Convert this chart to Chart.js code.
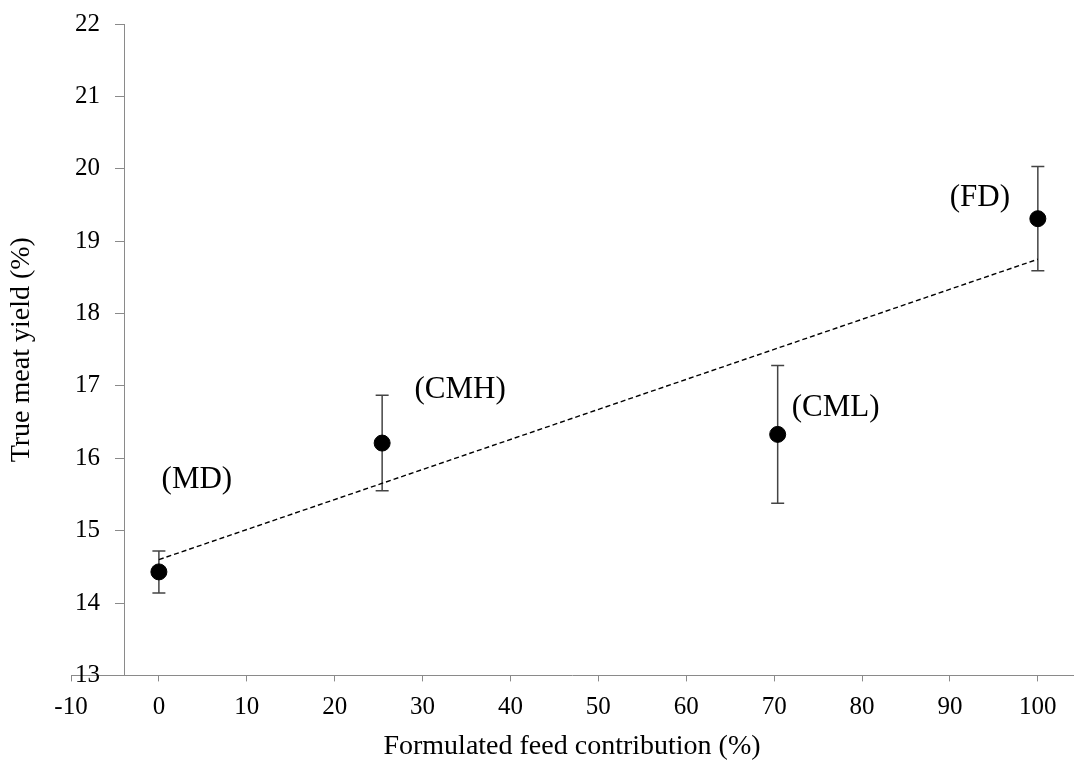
<!DOCTYPE html>
<html><head><meta charset="utf-8">
<script src="https://cdn.jsdelivr.net/npm/chart.js@4/dist/chart.umd.min.js"></script>
<style>html,body{margin:0;padding:0;background:#fff}#wrap{width:1074px;height:769px}</style>
</head><body><div id="wrap"><canvas id="c" width="1074" height="769"></canvas></div>
<script>
// ---- data ----
const treatments = ['(MD)', '(CMH)', '(CML)', '(FD)'];
const feedContribution = [0, 25.4, 70.4, 100];
const meatYield = [14.43, 16.21, 16.33, 19.31];
const yieldError = [0.29, 0.66, 0.95, 0.72];
const trendX = [0, 100];
const trendY = [14.60, 18.75];
const xTicks = [-10, 0, 10, 20, 30, 40, 50, 60, 70, 80, 90, 100];
const yTicks = [13, 14, 15, 16, 17, 18, 19, 20, 21, 22];
const xTitle = 'Formulated feed contribution (%)';
const yTitle = 'True meat yield (%)';
const yAxisCrossAt = -3.9;

// ---- styling / layout (not data) ----
const SERIF = "'Liberation Serif', 'DejaVu Serif', serif";
const AXIS_COLOR = '#8a8a8a';
const labelOffsets = [[38, -92], [78, -53], [58, -27], [-58, -21]];

const errorBarPlugin = {
  id: 'errorBars',
  beforeDatasetsDraw(chart) {
    const {ctx, scales: {x, y}} = chart;
    ctx.save();
    ctx.strokeStyle = '#444';
    ctx.lineWidth = 1.5;
    const cap = 6.5;
    feedContribution.forEach((fx, i) => {
      const px = x.getPixelForValue(fx);
      const top = y.getPixelForValue(meatYield[i] + yieldError[i]);
      const bot = y.getPixelForValue(meatYield[i] - yieldError[i]);
      ctx.beginPath();
      ctx.moveTo(px, top); ctx.lineTo(px, bot);
      ctx.moveTo(px - cap, top); ctx.lineTo(px + cap, top);
      ctx.moveTo(px - cap, bot); ctx.lineTo(px + cap, bot);
      ctx.stroke();
    });
    ctx.restore();
  }
};

const pointLabelPlugin = {
  id: 'pointLabels',
  afterDatasetsDraw(chart) {
    const {ctx, scales: {x, y}} = chart;
    ctx.save();
    ctx.fillStyle = '#000';
    ctx.font = '31px ' + SERIF;
    ctx.textAlign = 'center';
    ctx.textBaseline = 'middle';
    treatments.forEach((t, i) => {
      const px = x.getPixelForValue(feedContribution[i]);
      const py = y.getPixelForValue(meatYield[i]);
      ctx.fillText(t, px + labelOffsets[i][0], py + labelOffsets[i][1]);
    });
    ctx.restore();
  }
};

const zeroSidePadding = (axis) => { axis.paddingLeft = 0; axis.paddingRight = 0; };

new Chart(document.getElementById('c'), {
  type: 'scatter',
  data: {
    datasets: [
      {
        type: 'line',
        label: 'trend',
        data: trendX.map((v, i) => ({x: v, y: trendY[i]})),
        borderColor: '#000',
        borderWidth: 1.4,
        borderDash: [5, 3],
        pointRadius: 0,
        fill: false,
        order: 2
      },
      {
        label: 'yield',
        data: feedContribution.map((v, i) => ({x: v, y: meatYield[i]})),
        backgroundColor: '#000',
        borderColor: '#000',
        pointRadius: 8,
        pointHoverRadius: 8,
        order: 1
      }
    ]
  },
  options: {
    responsive: false,
    devicePixelRatio: 1,
    animation: false,
    layout: {autoPadding: false, padding: {left: 0, right: 1, top: 24, bottom: 2}},
    plugins: {legend: {display: false}, tooltip: {enabled: false}},
    scales: {
      x: {
        type: 'linear',
        position: 'bottom',
        min: -10,
        max: 104,
        afterBuildTicks: (axis) => { axis.ticks = xTicks.map(v => ({value: v})); },
        afterFit: zeroSidePadding,
        grid: {drawOnChartArea: false, drawTicks: true, tickLength: 6, color: AXIS_COLOR},
        border: {color: AXIS_COLOR, width: 1},
        ticks: {color: '#000', font: {family: SERIF, size: 25}, padding: 11, autoSkip: false, maxRotation: 0},
        title: {display: true, text: xTitle, color: '#000', font: {family: SERIF, size: 28}, padding: {top: -4, bottom: 4}}
      },
      // tick labels + title (labels mirrored so they sit just left of the crossing axis)
      y: {
        type: 'linear',
        position: 'left',
        min: 13,
        max: 22,
        afterBuildTicks: (axis) => { axis.ticks = yTicks.map(v => ({value: v})); },
        afterFit: zeroSidePadding,
        grid: {display: false, drawTicks: false, tickLength: 0},
        border: {display: false},
        ticks: {color: '#000', font: {family: SERIF, size: 25}, mirror: true, crossAlign: 'far', padding: 4},
        title: {display: true, text: yTitle, color: '#000', font: {family: SERIF, size: 28}, padding: {top: 5, bottom: 24.4}}
      },
      // the visible vertical axis line with its tick marks, crossing x at yAxisCrossAt
      yLine: {
        type: 'linear',
        position: {x: yAxisCrossAt},
        min: 13,
        max: 22,
        afterBuildTicks: (axis) => { axis.ticks = yTicks.map(v => ({value: v})); },
        afterFit: (axis) => { axis.paddingLeft = 0; axis.paddingRight = 0; axis.paddingTop = 0; axis.paddingBottom = 0; },
        grid: {drawOnChartArea: false, drawTicks: true, tickLength: 9, color: AXIS_COLOR},
        border: {color: AXIS_COLOR, width: 1},
        ticks: {display: false, padding: 0}
      }
    }
  },
  plugins: [errorBarPlugin, pointLabelPlugin]
});
</script>
</body></html>
